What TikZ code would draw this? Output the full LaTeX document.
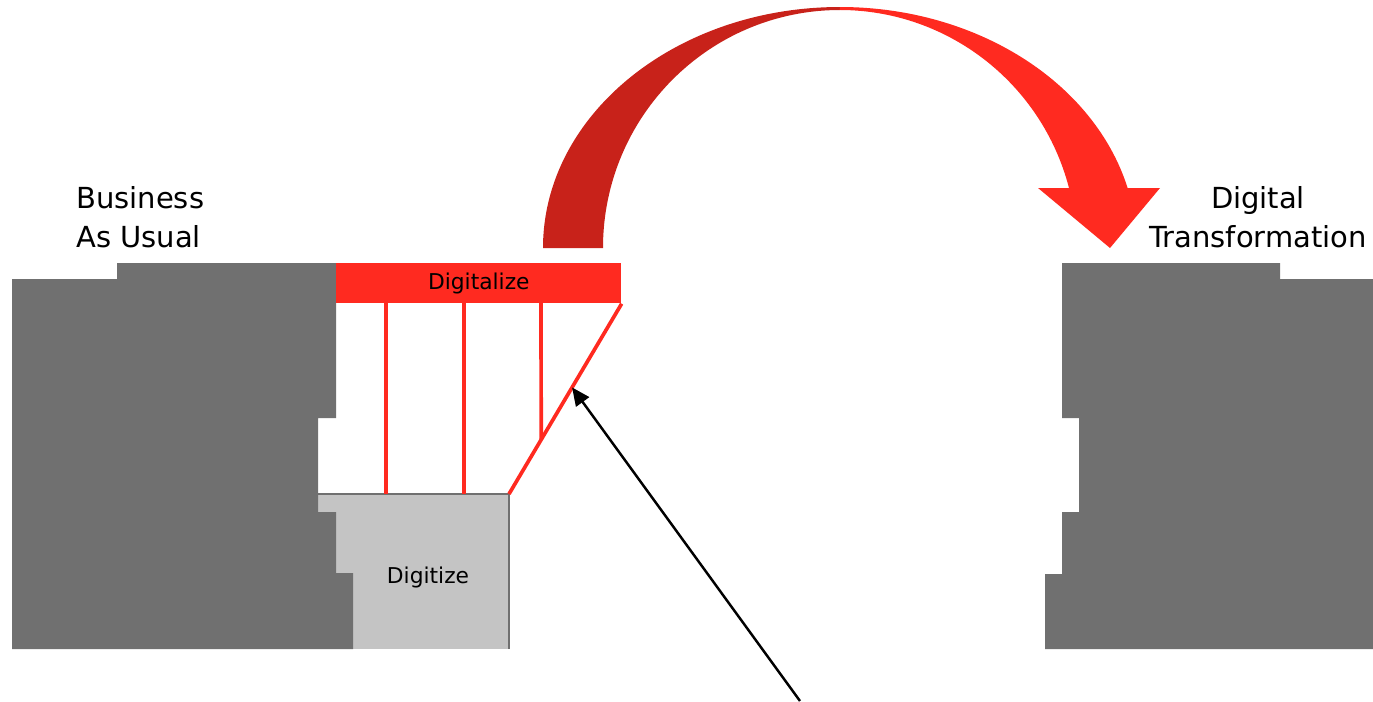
\documentclass[tikz,border=0pt]{standalone}
\usepackage{fontspec}
\setmainfont{DejaVu Sans}
\usetikzlibrary{arrows.meta, positioning, calc}

\definecolor{cliffgray}{HTML}{707070}
\definecolor{digitgray}{HTML}{C4C4C4}
\definecolor{brightred}{HTML}{FF2A20}
\definecolor{darkred}{HTML}{C8221A}

\begin{document}
\begin{tikzpicture}[x=0.02cm, y=-0.02cm,
	cliff/.style={fill=cliffgray, draw=none},
	strut/.style={draw=brightred, line width=2.1pt},
	biglabel/.style={font=\fontsize{16.5}{22}\selectfont, inner sep=0pt},
	smalllabel/.style={font=\fontsize{12.4}{15}\selectfont, inner sep=0pt}]
    \useasboundingbox (0,0) rectangle (1373,701);
    % digitize block under the bridge
    \fill[digitgray] (318,494) rectangle (509,649);
    \draw[cliffgray, line width=0.9pt] (318,494) -- (509,494) -- (509,649);
    \node[smalllabel] (digitize) at (428,577) {Digitize};
    % cliffs
    \fill[cliff] (12,279) -- (117,279) -- (117,263) -- (336,263) -- (336,418) -- (318,418) -- (318,512) -- (336,512)
        -- (336,573) -- (353,573) -- (353,649) -- (12,649) -- cycle;
    \fill[cliff] (1062,263) -- (1280,263) -- (1280,279) -- (1373,279) -- (1373,649) -- (1045,649) -- (1045,574)
        -- (1062,574) -- (1062,512) -- (1079,512) -- (1079,418) -- (1062,418) -- cycle;
    % bridge
    \node[fill=brightred, minimum width=5.7cm, minimum height=0.8cm, smalllabel, anchor=north west] (digitalize) at (336,263) {Digitalize};
    \coordinate (deck) at (509,494);
    \draw[strut] (386,303) -- (386,494);
    \draw[strut] (464,303) -- (464,494);
    \draw[strut] (541,303) -- ($(digitalize.south east)!0.714!(deck)$);
    \draw[strut] (digitalize.south east) -- (deck);
    % leap
    \fill[darkred] (543,248) arc[start angle=180, end angle=270, x radius=297, y radius=241] -- (840,10)
        arc[start angle=270, end angle=180, x radius=237, y radius=238] -- cycle;
    \fill[brightred] (840,7) arc[start angle=270, end angle=345.6, x radius=297, y radius=241] -- (1160,188) -- (1110,248)
        -- (1038,188) -- (1069,188) arc[start angle=345.4, end angle=270, x radius=237, y radius=238] -- cycle;
    % labels
    \node[biglabel, align=left, anchor=base west] (bau) at (76,247) {Business\\As Usual};
    \node[biglabel, align=center, anchor=base] (dt) at (1258,247) {Digital\\Transformation};
    % pointer
    \coordinate (foot) at (800,701);
    \coordinate (hit) at ($(digitalize.south east)!0.44!(deck)$);
    \draw[-{Triangle[length=0.36cm,width=0.32cm]}, line width=1.4pt] (foot) -- (hit);
\end{tikzpicture}
\end{document}
